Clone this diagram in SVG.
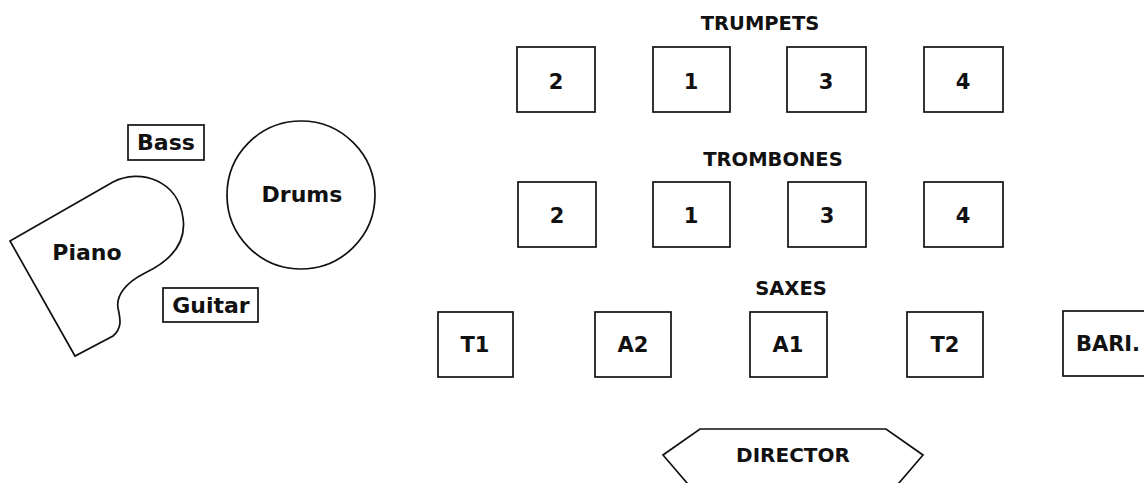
<svg xmlns="http://www.w3.org/2000/svg" width="1144" height="483" viewBox="0 0 1144 483">
  <style>
    .shape { fill: #fff; stroke: #111; stroke-width: 1.7; }
    .lbl { font-family: "DejaVu Sans", "Liberation Sans", sans-serif; font-weight: bold; fill: #111; text-anchor: middle; }
    .big { font-size: 22px; }
    .hd { font-size: 19.5px; }
    .num { font-size: 21px; }
    .dir { font-size: 20px; }
  </style>
  <rect width="1144" height="483" fill="#fff"/>

  <!-- rhythm section -->
  <g id="bass">
    <rect class="shape" x="128" y="125" width="76" height="35"/>
    <text class="lbl big" x="166" y="150">Bass</text>
  </g>
  <g id="drums">
    <circle class="shape" cx="301" cy="195" r="74"/>
    <text class="lbl big" x="302" y="202">Drums</text>
  </g>
  <g id="piano">
    <path class="shape" d="M10,241 L113,182 C140,168 178,180 183,218 C187,245 168,262 145,273 C125,283 116,296 118,308 C120,318 123,327 113,336 L75,356 Z"/>
    <text class="lbl big" x="87" y="260">Piano</text>
  </g>
  <g id="guitar">
    <rect class="shape" x="163" y="288" width="95" height="34"/>
    <text class="lbl big" x="211" y="313">Guitar</text>
  </g>

  <!-- section headings -->
  <text id="trumpets-title" class="lbl hd" x="760" y="30">TRUMPETS</text>
  <text id="trombones-title" class="lbl hd" x="773" y="166">TROMBONES</text>
  <text id="saxes-title" class="lbl hd" x="791" y="295">SAXES</text>

  <!-- trumpets -->
  <g id="tpt2"><rect class="shape" x="517" y="47" width="78" height="65"/><text class="lbl num" x="556" y="89">2</text></g>
  <g id="tpt1"><rect class="shape" x="653" y="47" width="77" height="65"/><text class="lbl num" x="691" y="89">1</text></g>
  <g id="tpt3"><rect class="shape" x="787" y="47" width="79" height="65"/><text class="lbl num" x="826" y="89">3</text></g>
  <g id="tpt4"><rect class="shape" x="924" y="47" width="79" height="65"/><text class="lbl num" x="963" y="89">4</text></g>

  <!-- trombones -->
  <g id="tbn2"><rect class="shape" x="518" y="182" width="78" height="65"/><text class="lbl num" x="557" y="223">2</text></g>
  <g id="tbn1"><rect class="shape" x="653" y="182" width="77" height="65"/><text class="lbl num" x="691" y="223">1</text></g>
  <g id="tbn3"><rect class="shape" x="788" y="182" width="78" height="65"/><text class="lbl num" x="827" y="223">3</text></g>
  <g id="tbn4"><rect class="shape" x="924" y="182" width="79" height="65"/><text class="lbl num" x="963" y="223">4</text></g>

  <!-- saxes -->
  <g id="saxT1"><rect class="shape" x="438" y="312" width="75" height="65"/><text class="lbl num" x="475" y="352">T1</text></g>
  <g id="saxA2"><rect class="shape" x="595" y="312" width="76" height="65"/><text class="lbl num" x="633" y="352">A2</text></g>
  <g id="saxA1"><rect class="shape" x="750" y="312" width="77" height="65"/><text class="lbl num" x="788" y="352">A1</text></g>
  <g id="saxT2"><rect class="shape" x="907" y="312" width="76" height="65"/><text class="lbl num" x="945" y="352">T2</text></g>
  <g id="saxBari"><rect class="shape" x="1063" y="311" width="84" height="65"/><text class="lbl num" x="1108" y="351">BARI.</text></g>

  <!-- director -->
  <g id="director">
    <path class="shape" d="M693,490 L663,455 L700,429 L886,429 L923,455 L893,490"/>
    <text class="lbl dir" x="793" y="462">DIRECTOR</text>
  </g>
</svg>
